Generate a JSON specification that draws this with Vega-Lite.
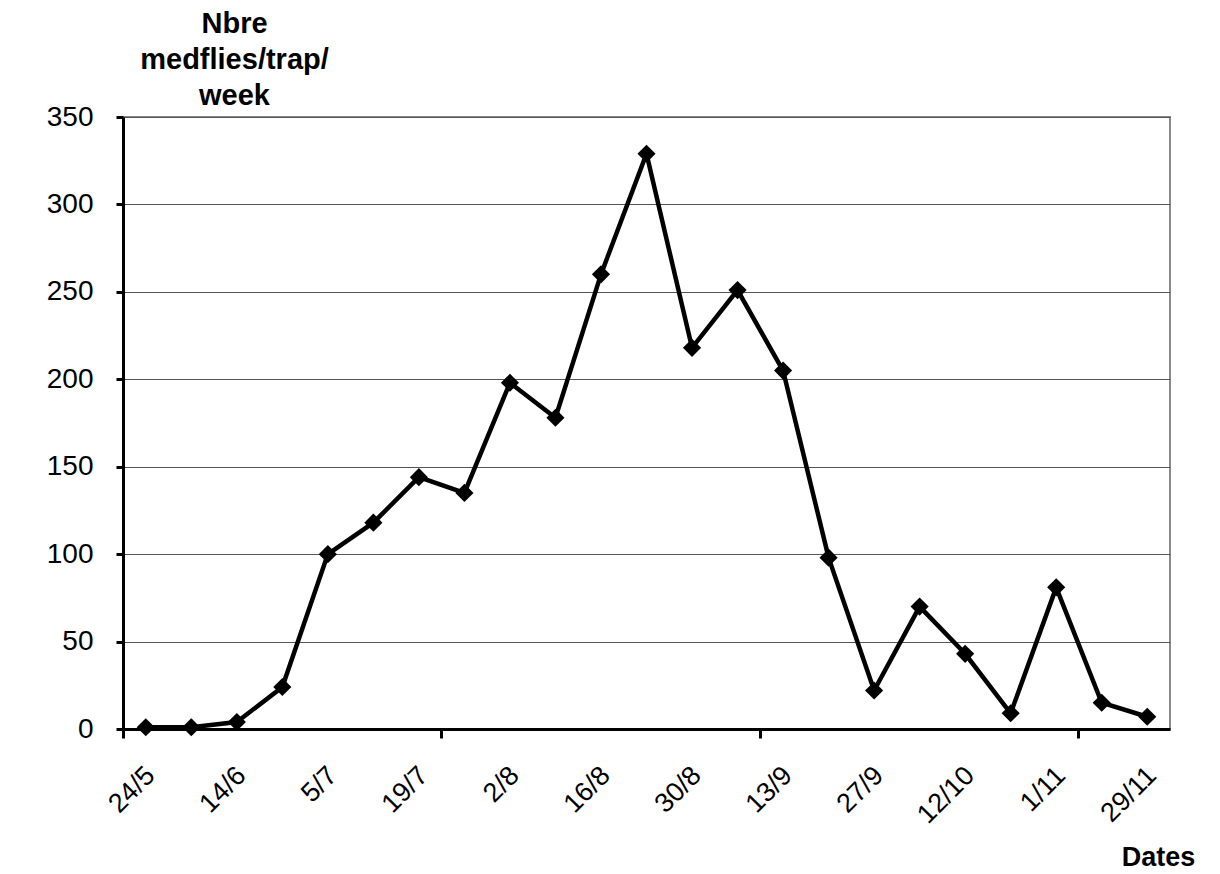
{
  "$schema": "https://vega.github.io/schema/vega-lite/v6.json",
  "width": 1047,
  "height": 612,
  "autosize": {"type": "none"},
  "padding": {"left": 123, "top": 117, "right": 50, "bottom": 145},
  "background": "white",
  "config": {
    "view": {"stroke": "#8a8a8a", "strokeWidth": 2},
    "font": "Liberation Sans"
  },
  "data": {
    "values": [
      {"date": "24/5", "medflies": 1},
      {"date": "3/6", "medflies": 1},
      {"date": "14/6", "medflies": 4},
      {"date": "24/6", "medflies": 24},
      {"date": "5/7", "medflies": 100},
      {"date": "12/7", "medflies": 118},
      {"date": "19/7", "medflies": 144},
      {"date": "26/7", "medflies": 135},
      {"date": "2/8", "medflies": 198},
      {"date": "9/8", "medflies": 178},
      {"date": "16/8", "medflies": 260},
      {"date": "23/8", "medflies": 329},
      {"date": "30/8", "medflies": 218},
      {"date": "6/9", "medflies": 251},
      {"date": "13/9", "medflies": 205},
      {"date": "20/9", "medflies": 98},
      {"date": "27/9", "medflies": 22},
      {"date": "5/10", "medflies": 70},
      {"date": "12/10", "medflies": 43},
      {"date": "22/10", "medflies": 9},
      {"date": "1/11", "medflies": 81},
      {"date": "15/11", "medflies": 15},
      {"date": "29/11", "medflies": 7}
    ]
  },
  "layer": [
    {
      "mark": {"type": "line", "color": "black", "strokeWidth": 4.5},
      "encoding": {
        "x": {
          "field": "date",
          "type": "nominal",
          "sort": null,
          "scale": {"type": "band", "paddingInner": 0, "paddingOuter": 0},
          "axis": {
            "orient": "bottom",
            "values": ["24/5", "14/6", "5/7", "19/7", "2/8", "16/8", "30/8", "13/9", "27/9", "12/10", "1/11", "29/11"],
            "labelAngle": -45,
            "labelAlign": "right",
            "labelBaseline": "middle",
            "labelFontSize": 27,
            "labelColor": "black",
            "labelPadding": 42,
            "labelOffset": 5,
            "ticks": false,
            "domain": true,
            "domainColor": "black",
            "domainWidth": 3,
            "grid": false,
            "title": "Dates",
            "titleFontSize": 27,
            "titleFontWeight": "bold",
            "titleColor": "black",
            "titleAlign": "center",
            "titleBaseline": "alphabetic",
            "titleX": 1035,
            "titleY": 136
          }
        },
        "y": {
          "field": "medflies",
          "type": "quantitative",
          "scale": {"domain": [0, 350], "nice": false},
          "axis": {
            "values": [0, 50, 100, 150, 200, 250, 300, 350],
            "grid": true,
            "gridColor": "#555555",
            "gridWidth": 1,
            "domainColor": "black",
            "domainWidth": 3,
            "tickColor": "black",
            "tickSize": 7,
            "tickWidth": 3,
            "labelFontSize": 28,
            "labelColor": "black",
            "labelPadding": 23,
            "title": ["Nbre", "medflies/trap/", "week"],
            "titleAngle": 0,
            "titleFontSize": 29,
            "titleFontWeight": "bold",
            "titleColor": "black",
            "titleAlign": "center",
            "titleBaseline": "alphabetic",
            "titleLineHeight": 36,
            "titleX": 111,
            "titleY": -85
          }
        }
      }
    },
    {
      "mark": {"type": "point", "shape": "diamond", "filled": true, "color": "black", "size": 330, "opacity": 1},
      "encoding": {
        "x": {
          "field": "date",
          "type": "nominal",
          "sort": null,
          "axis": {
            "orient": "bottom",
            "values": ["24/5", "26/7", "13/9", "15/11"],
            "bandPosition": 0,
            "labels": false,
            "domain": false,
            "ticks": true,
            "tickColor": "black",
            "tickSize": 9,
            "tickWidth": 3,
            "grid": false,
            "title": null
          }
        },
        "y": {"field": "medflies", "type": "quantitative"}
      }
    }
  ],
  "resolve": {"axis": {"x": "independent"}}
}
